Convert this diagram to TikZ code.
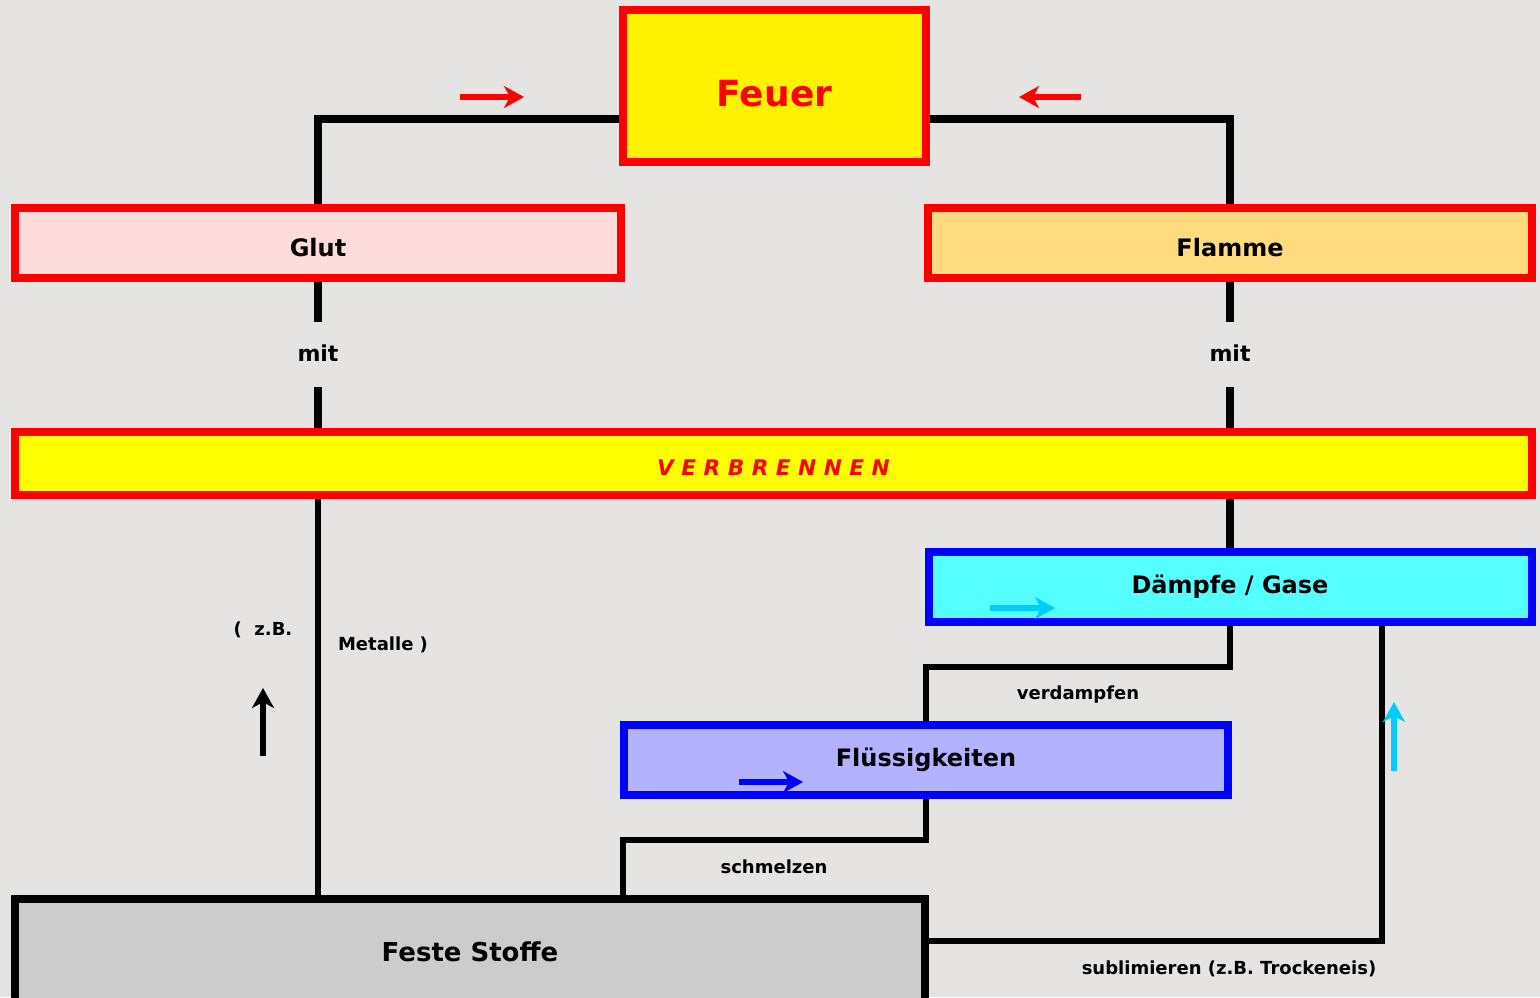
\documentclass[tikz,border=0pt]{standalone}
\usepackage{fontspec}
\setmainfont{DejaVu Sans}
\usetikzlibrary{arrows.meta}
\pgfdeclarelayer{background}
\pgfsetlayers{background,main}
\definecolor{bgc}{HTML}{E6E3E3}
\definecolor{feuerc}{HTML}{FFF200}
\definecolor{glutc}{HTML}{FFDCDC}
\definecolor{flammec}{HTML}{FFDB80}
\definecolor{verbc}{HTML}{FFFF00}
\definecolor{daempfec}{HTML}{55FFFF}
\definecolor{fluessc}{HTML}{B2B2FF}
\definecolor{festec}{HTML}{CCCCCC}
\definecolor{redc}{HTML}{FF0000}
\definecolor{bluec}{HTML}{0000FF}
\definecolor{cyanc}{HTML}{00CCFF}
\newcommand{\fs}[1]{\fontsize{#1}{#1}\selectfont\bfseries}
\tikzset{
  box/.style={draw, line width=4pt, inner sep=0pt, outer sep=0pt, align=center},
  redbox/.style={box, draw=redc},
  bluebox/.style={box, draw=bluec},
  conn/.style={draw=black, line width=4pt},
  connthin/.style={draw=black, line width=3pt},
  lbl/.style={inner sep=0pt, outer sep=0pt, font=\fs{9pt}},
  deco/.style={line width=3pt, -{Stealth[length=10pt,width=11pt,inset=3pt]}}
}
\begin{document}
\begin{tikzpicture}[x=0.5pt,y=-0.5pt]
\useasboundingbox (0,0) rectangle (1540,997);
\clip (0,0) rectangle (1540,997);
% boxes
\node[redbox, fill=feuerc, minimum width=151.5pt, minimum height=76pt, font=\fs{18pt}, text=redc, text height=20pt, text depth=0pt] (feuer) at (774.5,86) {Feuer};
\node[redbox, fill=glutc, minimum width=303pt, minimum height=35pt, font=\fs{12pt}, text height=13pt, text depth=0pt] (glut) at (318,243) {Glut};
\node[redbox, fill=flammec, minimum width=302pt, minimum height=35pt, font=\fs{12pt}, text height=13pt, text depth=0pt] (flamme) at (1230,243) {Flamme};
\node[redbox, fill=verbc, minimum width=758.5pt, minimum height=31.5pt, font=\fontsize{10.8pt}{10.8pt}\selectfont\bfseries\itshape, text=redc, text height=11.9pt, text depth=0pt] (verb) at (773.5,463.5) {V E R B R E N N E N};
\node[bluebox, fill=daempfec, minimum width=301.5pt, minimum height=35pt, font=\fs{12pt}] (daempfe) at (1230,587) {Dämpfe / Gase};
\node[bluebox, fill=fluessc, minimum width=302pt, minimum height=35pt, font=\fs{12pt}] (fluess) at (926,760) {Flüssigkeiten};
\node[box, draw=black, fill=festec, minimum width=455pt, minimum height=53pt, font=\fs{13pt}] (feste) at (470,952) {Feste Stoffe};
% labels
\node[inner sep=0pt, outer sep=0pt, minimum height=32.5pt, font=\fs{11pt}, text height=8pt, text depth=1pt] (mitL) at (318,354.5) {mit};
\node[inner sep=0pt, outer sep=0pt, minimum height=32.5pt, font=\fs{11pt}, text height=8pt, text depth=1pt] (mitR) at (1230,354.5) {mit};
\node[lbl] (zb) at (263,630) {( \ z.B.};
\node[lbl] (metalle) at (383,645) {Metalle )};
\node[lbl] (verdampfen) at (1078,695) {verdampfen};
\node[lbl] (schmelzen) at (774,867) {schmelzen};
\node[lbl] (sublim) at (1229,969) {sublimieren (z.B. Trockeneis)};
% helper coordinates
\coordinate (hF) at (0,119);
\coordinate (hD) at (0,667);
\coordinate (hS) at (0,840);
\coordinate (xS) at (623,0);
\coordinate (hT) at (0,941);
\coordinate (xT) at (1382,0);
\begin{pgfonlayer}{background}
\fill[bgc] (0,0) rectangle (1540,997);
\draw[conn] (feuer.west |- hF) -| (glut.north);
\draw[conn] (feuer.east |- hF) -| (flamme.north);
\draw[conn] (glut.south) -- (mitL.north);
\draw[conn] (mitL.south) -- (verb.north -| mitL.south);
\draw[conn] (flamme.south) -- (mitR.north);
\draw[conn] (mitR.south) -- (verb.north -| mitR.south);
\draw[conn] (verb.south -| daempfe.north) -- (daempfe.north);
\draw[connthin] (verb.south -| glut.south) -- (feste.north -| glut.south);
\draw[connthin] (daempfe.south) -- (daempfe.south |- hD) -| (fluess.north);
\draw[connthin] (fluess.south) -- (fluess.south |- hS) -| (feste.north -| xS);
\draw[connthin] (feste.east |- hT) -| (daempfe.south -| xT);
\end{pgfonlayer}
% decorative arrows
\coordinate (a1s) at (460,97); \coordinate (a1e) at (524,97);
\coordinate (a2s) at (1081,97); \coordinate (a2e) at (1019,97);
\coordinate (a3s) at (263,756); \coordinate (a3e) at (263,688);
\coordinate (a4s) at (990,608); \coordinate (a4e) at (1055,608);
\coordinate (a5s) at (739,782); \coordinate (a5e) at (803,782);
\coordinate (a6s) at (1394,771); \coordinate (a6e) at (1394,702);
\draw[deco, redc] (a1s) -- (a1e);
\draw[deco, redc] (a2s) -- (a2e);
\draw[deco, black] (a3s) -- (a3e);
\draw[deco, cyanc] (a4s) -- (a4e);
\draw[deco, bluec] (a5s) -- (a5e);
\draw[deco, cyanc] (a6s) -- (a6e);
\end{tikzpicture}
\end{document}
